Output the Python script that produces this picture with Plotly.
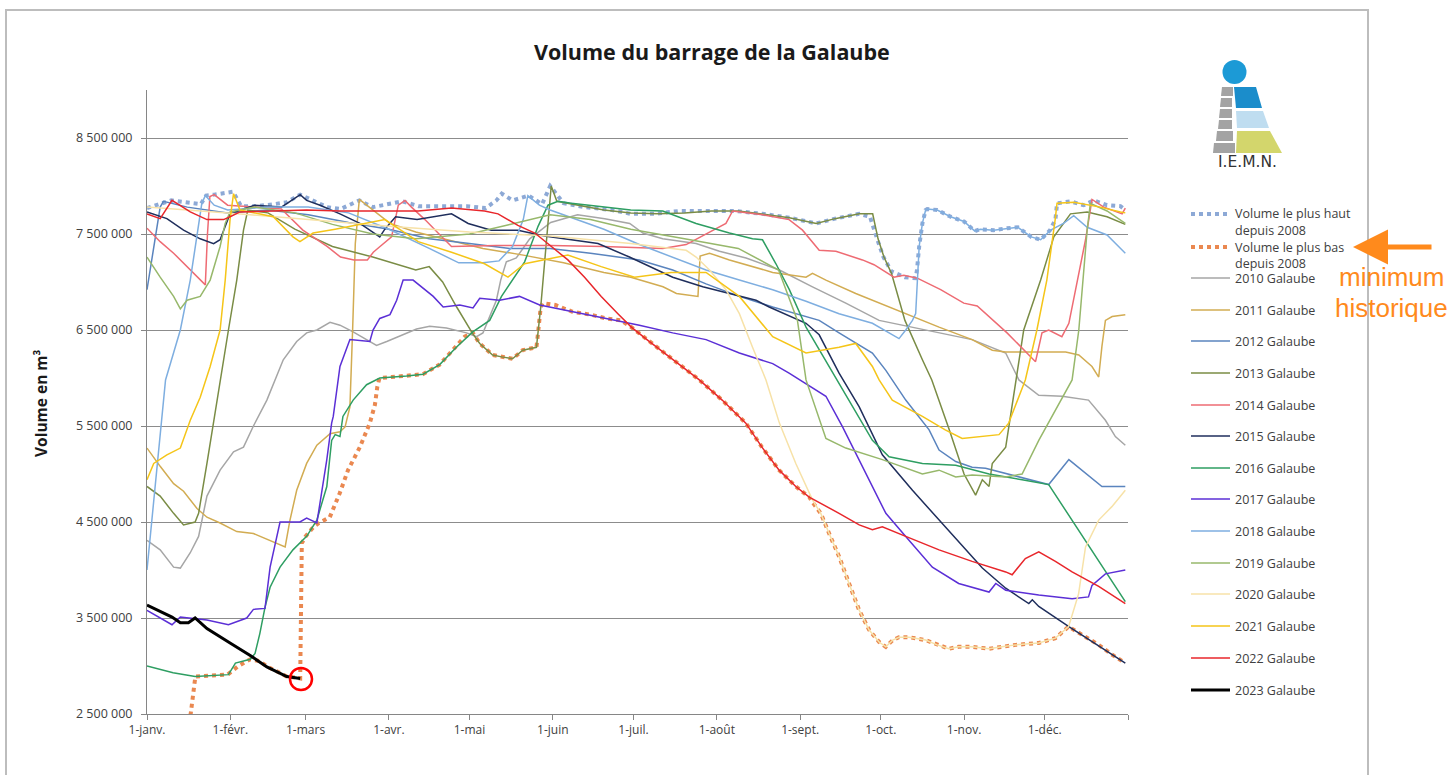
import plotly.graph_objects as go
import pandas as pd

# ---------------- data (volumes in millions of m3, day-of-year from 1 Jan) -------------
months_fr = ["1-janv.", "1-févr.", "1-mars", "1-avr.", "1-mai", "1-juin", "1-juil.",
             "1-août", "1-sept.", "1-oct.", "1-nov.", "1-déc.", ""]
y_ticks = [2.5, 3.5, 4.5, 5.5, 6.5, 7.5, 8.5]
y_ticktext = ["2 500 000", "3 500 000", "4 500 000", "5 500 000", "6 500 000", "7 500 000", "8 500 000"]

days_hi = [0, 6, 9, 20, 22, 25, 32, 35, 41, 47, 52, 57, 62, 67, 72, 79, 84, 90, 95, 101,
           107, 113, 119, 126, 130, 132, 136, 142, 147, 150, 155, 163, 173, 180, 189, 198, 210, 219, 229, 239,
           249, 256, 265, 269, 272, 274, 277, 282, 286, 286.5, 287.3, 288.5, 289.7, 290.3, 294, 299, 304, 308, 310, 315,
           320, 324, 329, 332.5, 336, 338, 338.6, 343.6, 348.5, 352.3, 357.2, 362.2, 364]
vol_hi = [7.77, 7.83, 7.85, 7.81, 7.90, 7.91, 7.94, 7.79, 7.79, 7.81, 7.83, 7.91, 7.85, 7.78, 7.76, 7.85, 7.78, 7.81, 7.84, 7.79,
          7.79, 7.80, 7.79, 7.77, 7.85, 7.92, 7.85, 7.90, 7.81, 8.00, 7.82, 7.78, 7.75, 7.71, 7.71, 7.74, 7.74, 7.74, 7.71, 7.67,
          7.61, 7.66, 7.71, 7.68, 7.42, 7.26, 7.11, 7.05, 7.04, 7.13, 7.37, 7.61, 7.75, 7.76, 7.75, 7.68, 7.63, 7.53, 7.55, 7.54,
          7.56, 7.57, 7.47, 7.44, 7.54, 7.65, 7.82, 7.84, 7.80, 7.85, 7.80, 7.79, 7.75]

days_lo = [0, 10, 15, 16.3, 18, 24, 30, 34, 38.4, 42, 45, 48, 52, 55, 57, 57.6, 59, 62, 64, 68,
           71.7, 74.8, 79.2, 82.9, 84.8, 85.7, 86.5, 91, 96.6, 102.7, 108.9, 113.8, 118.2, 121.2, 123.8, 128.6, 132, 136, 139.8, 144.9,
           145.5, 146.5, 147.2, 152, 158.3, 165, 171, 176.4, 180.2, 186, 193, 200, 205.5, 214, 222.8, 228.8, 235.2, 241.4, 246.4, 247.5,
           250.7, 253.8, 257.5, 261.2, 265, 268.7, 272.4, 274.9, 277.5, 279.8, 283.5, 289.7, 294, 298.4, 302, 306.9, 313.3, 318, 323.2, 331.8,
           338, 342.9, 347, 350, 354.1, 359, 364]
vol_lo = [2.2, 2.3, 2.35, 2.51, 2.89, 2.90, 2.91, 3.0, 3.07, 3.05, 2.99, 2.95, 2.89, 2.88, 2.87, 4.28, 4.35, 4.45, 4.49, 4.55,
          4.80, 5.04, 5.28, 5.53, 5.72, 5.91, 6.0, 6.01, 6.02, 6.04, 6.14, 6.29, 6.43, 6.47, 6.36, 6.24, 6.22, 6.20, 6.29, 6.32,
          6.47, 6.74, 6.78, 6.76, 6.69, 6.66, 6.62, 6.60, 6.53, 6.40, 6.25, 6.10, 5.98, 5.77, 5.53, 5.28, 5.04, 4.87, 4.76, 4.71,
          4.59, 4.38, 4.14, 3.86, 3.58, 3.375, 3.25, 3.20, 3.27, 3.30, 3.30, 3.27, 3.22, 3.18, 3.20, 3.20, 3.18, 3.20, 3.22, 3.24,
          3.29, 3.41, 3.34, 3.28, 3.22, 3.12, 3.03]

days_2010 = [0, 4.9, 9.9, 12.4, 16.1, 19.2, 22.3, 27.2, 32.2, 35.9, 39.6, 44.6, 50.7, 55.7, 59.4, 63.2, 68.1, 71.8, 76.7, 82.9,
             85.4, 89.2, 94.1, 100.3, 105.2, 111.4, 118.9, 122.6, 125, 127.5, 130, 131.6, 133.7, 137.4, 142.4, 150.2, 160.2, 170.3, 179.6, 184.5,
             191.9, 204.3, 213, 222.9, 235.3, 247.6, 260, 272.4, 290, 307, 319.5, 324.4, 331.8, 340.5, 350.3, 356.6, 360.3, 364]
vol_2010 = [4.31, 4.21, 4.03, 4.02, 4.18, 4.35, 4.77, 5.04, 5.23, 5.28, 5.50, 5.77, 6.19, 6.38, 6.47, 6.50, 6.58, 6.55, 6.48, 6.38,
            6.34, 6.38, 6.44, 6.51, 6.54, 6.52, 6.47, 6.43, 6.47, 6.64, 6.81, 7.02, 7.21, 7.25, 7.45, 7.62, 7.70, 7.66, 7.61, 7.51,
            7.45, 7.40, 7.32, 7.25, 7.125, 6.95, 6.78, 6.60, 6.50, 6.40, 6.26, 5.98, 5.82, 5.81, 5.77, 5.56, 5.39, 5.30]

days_2011 = [0, 4.9, 9.9, 13.6, 18.6, 22.3, 27.2, 33.4, 39.6, 45.8, 51.4, 53.2, 55.7, 59.4, 63.2, 68.1, 71.8, 73.7, 75.5, 76.5,
             77.5, 79, 84.1, 90.4, 100, 110, 125, 140, 155, 170, 180, 192, 197, 205, 205.8, 209.3, 216.7, 232.8, 245.2, 247.6,
             252.6, 263.7, 269.9, 282.3, 294.7, 307, 314.5, 319.5, 331.8, 341.8, 346.7, 351.6, 354.1, 355.3, 356.6, 359.1, 364]
vol_2011 = [5.27, 5.08, 4.90, 4.82, 4.64, 4.55, 4.49, 4.40, 4.38, 4.31, 4.24, 4.52, 4.83, 5.11, 5.30, 5.42, 5.44, 5.49, 5.70, 6.50,
            7.40, 7.86, 7.75, 7.61, 7.52, 7.45, 7.35, 7.28, 7.20, 7.10, 7.05, 6.95, 6.88, 6.85, 7.27, 7.30, 7.23, 7.10, 7.05, 7.09,
            7.02, 6.88, 6.81, 6.67, 6.53, 6.40, 6.29, 6.27, 6.27, 6.27, 6.24, 6.12, 6.01, 6.33, 6.60, 6.64, 6.66]

days_2012 = [0, 4.9, 6.1, 15, 30, 45, 60, 75, 90, 105, 120, 135, 150, 165, 183.2, 195.6, 208, 220.4, 232.8, 242.7,
             250.1, 257.5, 269.9, 274.9, 282.3, 291, 294.7, 300.9, 307, 312, 320, 328, 335.5, 343, 355.3, 364]
vol_2012 = [6.92, 7.78, 7.84, 7.78, 7.72, 7.75, 7.70, 7.62, 7.55, 7.45, 7.40, 7.35, 7.35, 7.30, 7.23, 7.125, 6.98, 6.85, 6.74, 6.66,
            6.60, 6.47, 6.26, 6.08, 5.77, 5.46, 5.25, 5.13, 5.07, 5.06, 5.0, 4.94, 4.89, 5.15, 4.87, 4.87]

days_2013 = [0, 4.9, 9.9, 13.6, 17.9, 19.2, 22.3, 26, 30.3, 33.4, 35.9, 37.5, 45, 55, 69, 84, 100, 105, 110, 115,
             121, 123.8, 128.6, 132, 136, 139.8, 144.9, 146.5, 148.5, 150.4, 152.5, 160, 170, 180, 190, 200, 210, 220, 229, 239,
             249, 256, 265, 270, 272, 274.2, 277, 282, 288.5, 292, 298.5, 304, 308.3, 310.8, 313.3, 314.5, 319.5, 323.2, 326.2, 332.5,
             337.4, 343.6, 349.8, 357.2, 364]
vol_2013 = [4.87, 4.77, 4.59, 4.47, 4.50, 4.59, 5.11, 5.77, 6.50, 7.02, 7.54, 7.75, 7.72, 7.55, 7.37, 7.26, 7.125, 7.16, 7.0, 6.75,
            6.47, 6.36, 6.24, 6.22, 6.20, 6.29, 6.32, 6.74, 7.40, 8.00, 7.84, 7.80, 7.75, 7.72, 7.71, 7.72, 7.74, 7.74, 7.71, 7.67,
            7.61, 7.66, 7.71, 7.71, 7.45, 7.26, 7.09, 6.60, 6.19, 5.98, 5.46, 5.00, 4.78, 4.94, 4.87, 5.11, 5.28, 5.98, 6.50, 7.02,
            7.47, 7.71, 7.73, 7.68, 7.60]

days_2014 = [0, 4.9, 9.9, 16.1, 21.7, 22.5, 23.4, 25, 30, 40, 50, 58, 67, 72, 77, 82, 84.2, 86.7, 91, 93.5,
             96, 98.4, 103.4, 108.3, 113.3, 130, 150, 170, 191.9, 200.6, 212.9, 215.4, 217.9, 229, 238.9, 243.9, 250.1, 256.3, 266.2, 270.5,
             277.9, 281.6, 286.6, 295.3, 303.9, 308.9, 320, 330.6, 333, 335.5, 340.4, 343, 349.2, 351.6, 356, 362.8, 364]
vol_2014 = [7.56, 7.42, 7.30, 7.125, 6.97, 7.50, 7.89, 7.91, 7.80, 7.78, 7.76, 7.54, 7.37, 7.26, 7.23, 7.23, 7.31, 7.37, 7.47, 7.80,
            7.85, 7.78, 7.65, 7.51, 7.37, 7.38, 7.38, 7.37, 7.35, 7.39, 7.57, 7.61, 7.74, 7.70, 7.65, 7.54, 7.33, 7.32, 7.23, 7.18,
            7.05, 7.07, 7.04, 6.92, 6.78, 6.75, 6.47, 6.17, 6.47, 6.50, 6.43, 6.57, 7.44, 7.86, 7.78, 7.71, 7.77]

days_2015 = [0, 7.4, 13.6, 19.8, 24.8, 27.2, 30.9, 40, 50, 57, 59.4, 64.4, 71.8, 79.2, 86.6, 88.5, 92.5, 100.5, 113.3, 119.5,
             128.1, 138, 147.9, 157.9, 167.8, 179.5, 195.6, 206.8, 216.7, 226.6, 231.5, 241.4, 245.2, 250.1, 257.5, 265, 273.6, 284.8, 294.7, 305.9,
             310.8, 319.5, 328.1, 329.4, 331.8, 343, 364]
vol_2015 = [7.73, 7.66, 7.54, 7.45, 7.40, 7.44, 7.71, 7.80, 7.78, 7.91, 7.85, 7.80, 7.71, 7.61, 7.47, 7.55, 7.68, 7.65, 7.71, 7.61,
            7.54, 7.54, 7.48, 7.44, 7.40, 7.26, 7.05, 6.95, 6.88, 6.81, 6.74, 6.62, 6.57, 6.45, 6.05, 5.70, 5.20, 4.83, 4.52, 4.17,
            4.02, 3.81, 3.65, 3.69, 3.62, 3.41, 3.03]

days_2016 = [0, 9.7, 17.9, 30.3, 32.9, 38.4, 40.2, 42, 43.9, 45.8, 49.5, 54.3, 59.4, 63.2, 66.9, 68.7, 70, 71.8, 72.9, 76.7,
             81.7, 86.6, 96.6, 102.7, 108.9, 115.1, 121.2, 127.5, 131.9, 140.5, 145.5, 149.2, 152.9, 157.9, 180, 191.9, 204.3, 216.7, 225.3, 229,
             234, 239, 245.2, 262.5, 269.9, 276.1, 288.5, 300.9, 313.3, 325.6, 335.5, 364]
vol_2016 = [3.0, 2.93, 2.89, 2.91, 3.03, 3.07, 3.13, 3.34, 3.61, 3.82, 4.03, 4.21, 4.35, 4.52, 4.87, 5.35, 5.41, 5.39, 5.60, 5.77,
            5.93, 6.0, 6.02, 6.04, 6.14, 6.32, 6.48, 6.60, 6.85, 7.21, 7.58, 7.80, 7.84, 7.82, 7.75, 7.74, 7.61, 7.51, 7.45, 7.44,
            7.19, 6.92, 6.53, 5.70, 5.35, 5.18, 5.11, 5.09, 5.0, 4.94, 4.89, 3.67]

days_2017 = [0, 9.3, 12.4, 22.3, 30.3, 37.1, 39.6, 43.9, 45.8, 49.5, 56.9, 59.4, 63.2, 66.9, 68.7, 69.3, 71.8, 75.5, 82.9, 84.1,
             86.6, 90.4, 92.9, 95.3, 99, 106.5, 110.2, 116.4, 121.3, 123.8, 131.2, 138.6, 146.1, 158.5, 170.9, 183.2, 195.6, 208, 220.4, 232.8,
             238.9, 245.2, 252.6, 258.8, 265, 274.9, 282.3, 292.2, 302, 313.3, 315.8, 319.5, 331.8, 344.2, 350.3, 351.6, 356.6, 364]
vol_2017 = [3.58, 3.43, 3.51, 3.48, 3.43, 3.50, 3.59, 3.60, 4.03, 4.50, 4.50, 4.54, 4.49, 5.15, 5.53, 5.60, 6.12, 6.40, 6.38, 6.50,
            6.62, 6.66, 6.81, 7.02, 7.02, 6.85, 6.74, 6.76, 6.73, 6.83, 6.81, 6.85, 6.76, 6.69, 6.62, 6.55, 6.47, 6.40, 6.26, 6.15,
            6.05, 5.94, 5.81, 5.49, 5.15, 4.59, 4.35, 4.03, 3.86, 3.77, 3.86, 3.79, 3.74, 3.70, 3.72, 3.84, 3.96, 4.0]

days_2018 = [0, 6.9, 12.4, 16.1, 20.4, 21.7, 25, 30, 45, 60, 75, 90, 105, 116, 125, 131, 136, 140, 141.7, 146,
             150, 160, 170, 183.2, 195.6, 208, 220.4, 232.8, 245.2, 257.5, 269.9, 279.8, 282.3, 284.8, 286, 287.3, 288.5, 289.7, 290.3, 294,
             299, 304, 308, 310, 315, 320, 324, 329, 332.5, 336.2, 341, 344.8, 349.8, 357.2, 364]
vol_2018 = [4.0, 5.98, 6.5, 7.02, 7.82, 7.90, 7.80, 7.75, 7.78, 7.78, 7.72, 7.55, 7.35, 7.20, 7.20, 7.22, 7.37, 7.65, 7.90, 7.80,
            7.75, 7.65, 7.55, 7.39, 7.26, 7.125, 7.02, 6.92, 6.80, 6.67, 6.57, 6.41, 6.50, 6.60, 6.67, 7.37, 7.61, 7.75, 7.76, 7.75,
            7.68, 7.63, 7.53, 7.55, 7.54, 7.56, 7.57, 7.47, 7.44, 7.54, 7.61, 7.69, 7.57, 7.49, 7.30]

days_2019 = [0, 4.9, 9.9, 12.4, 14.9, 19.8, 23.5, 27.2, 29.1, 30.9, 40, 55, 69, 84, 100, 120, 135, 150, 165, 180,
             200, 220, 235, 242, 245.2, 252.6, 260, 273.6, 288.5, 294.7, 300.9, 307, 319.5, 325.6, 331.8, 344.2, 346.7, 349.8, 351, 357.2,
             364]
vol_2019 = [7.26, 7.05, 6.85, 6.72, 6.81, 6.85, 7.02, 7.37, 7.61, 7.73, 7.78, 7.72, 7.60, 7.50, 7.45, 7.50, 7.60, 7.70, 7.65, 7.55,
            7.45, 7.35, 7.125, 6.60, 5.98, 5.37, 5.27, 5.15, 5.0, 5.04, 4.97, 4.99, 4.97, 5.0, 5.35, 5.98, 6.5, 7.54, 7.82, 7.74,
            7.61]

days_2020 = [0, 30, 60, 90, 120, 150, 180, 200.6, 204.3, 209.3, 215.4, 220.4, 225.3, 230.3, 235.3, 241.4, 247.6, 250.7, 253.8, 257.5,
             261.2, 265, 268.7, 272.4, 274.9, 277.5, 279.8, 283.5, 289.7, 294, 298.4, 302, 306.9, 313.3, 318, 323.2, 331.8, 338, 342.9, 346.6,
             349.2, 354.1, 359, 364]
vol_2020 = [7.78, 7.72, 7.65, 7.58, 7.52, 7.48, 7.40, 7.33, 7.26, 7.125, 6.92, 6.67, 6.32, 5.98, 5.53, 5.11, 4.73, 4.59, 4.38, 4.14,
            3.86, 3.58, 3.375, 3.25, 3.20, 3.27, 3.30, 3.30, 3.27, 3.22, 3.18, 3.20, 3.20, 3.18, 3.20, 3.22, 3.24, 3.29, 3.41, 3.75,
            4.24, 4.52, 4.66, 4.83]

days_2021 = [0, 2.5, 7.4, 12.4, 16.1, 19.8, 23.5, 27.2, 29.1, 30.9, 32.2, 34.6, 47, 54.3, 56.9, 61.8, 70, 80, 88.5, 100.9,
             113.3, 125.6, 134.3, 140.5, 150.4, 156.6, 169, 181.4, 195, 208, 220.4, 232.8, 245.2, 257.5, 263.7, 269.9, 272.4, 277.3, 288.5, 297,
             303.3, 310.8, 317, 320.6, 326.8, 331.1, 334.8, 337.9, 338.6, 344.8, 354.7, 362.2, 364]
vol_2021 = [4.94, 5.11, 5.20, 5.27, 5.56, 5.80, 6.12, 6.50, 7.02, 7.65, 7.92, 7.75, 7.68, 7.47, 7.42, 7.51, 7.55, 7.60, 7.65, 7.42,
            7.31, 7.19, 7.05, 7.19, 7.25, 7.28, 7.16, 7.05, 7.10, 7.10, 6.85, 6.43, 6.26, 6.32, 6.36, 6.12, 5.98, 5.77, 5.60, 5.46,
            5.37, 5.39, 5.41, 5.53, 5.98, 6.50, 7.02, 7.65, 7.82, 7.83, 7.78, 7.73, 7.72]

days_2022 = [0, 4.9, 9.3, 16.1, 22.3, 28.5, 30.9, 34.6, 47, 59.4, 71.8, 84.1, 100.9, 113.3, 125.6, 130.6, 138, 144.3, 150.4, 156.6,
             162.8, 169, 175.2, 180.2, 186, 193, 200, 205.5, 214, 222.8, 228.8, 235.2, 241.4, 246.4, 257.5, 265, 269.9, 273.6, 282.3, 294.7,
             307, 319.5, 321.9, 326.8, 331.8, 338, 344.2, 354.1, 364]
vol_2022 = [7.71, 7.66, 7.85, 7.73, 7.65, 7.65, 7.68, 7.73, 7.74, 7.75, 7.74, 7.74, 7.74, 7.77, 7.74, 7.71, 7.59, 7.51, 7.37, 7.23,
            7.05, 6.85, 6.67, 6.53, 6.40, 6.25, 6.10, 5.98, 5.77, 5.53, 5.28, 5.04, 4.87, 4.76, 4.59, 4.47, 4.42, 4.45, 4.35, 4.21,
            4.09, 3.98, 3.95, 4.12, 4.19, 4.09, 3.98, 3.83, 3.65]

days_2023 = [0, 5, 9.3, 12.4, 15.4, 17.9, 22.3, 30.9, 38.4, 44.6, 52, 57]
vol_2023 = [3.635, 3.57, 3.51, 3.45, 3.45, 3.50, 3.39, 3.24, 3.11, 2.99, 2.89, 2.87]

# ---------------- series definitions -------------
series = [
    ("Volume le plus haut depuis 2008", days_hi, vol_hi, "#8DA9D6", 4, "dot"),
    ("Volume le plus bas depuis 2008", days_lo, vol_lo, "#EA8850", 4, "dot"),
    ("2010 Galaube", days_2010, vol_2010, "#A6A6A6", 1.5, "solid"),
    ("2011 Galaube", days_2011, vol_2011, "#D2AC52", 1.5, "solid"),
    ("2012 Galaube", days_2012, vol_2012, "#5A84BE", 1.5, "solid"),
    ("2013 Galaube", days_2013, vol_2013, "#7A8C45", 1.5, "solid"),
    ("2014 Galaube", days_2014, vol_2014, "#EE6B73", 1.5, "solid"),
    ("2015 Galaube", days_2015, vol_2015, "#1F2E5C", 1.5, "solid"),
    ("2016 Galaube", days_2016, vol_2016, "#2E9E62", 1.5, "solid"),
    ("2017 Galaube", days_2017, vol_2017, "#5B2FD6", 1.5, "solid"),
    ("2018 Galaube", days_2018, vol_2018, "#7EAEE0", 1.5, "solid"),
    ("2019 Galaube", days_2019, vol_2019, "#97B86B", 1.5, "solid"),
    ("2020 Galaube", days_2020, vol_2020, "#F7E2A8", 1.5, "solid"),
    ("2021 Galaube", days_2021, vol_2021, "#F5C518", 1.5, "solid"),
    ("2022 Galaube", days_2022, vol_2022, "#E8262B", 1.5, "solid"),
    ("2023 Galaube", days_2023, vol_2023, "#000000", 3, "solid"),
]

base = pd.Timestamp("2023-01-01")


def to_dates(days):
    return [base + pd.Timedelta(days=d) for d in days]


fig = go.Figure()
for name, d, v, col, w, dash in series:
    fig.add_trace(go.Scatter(x=to_dates(d), y=[val * 1e6 for val in v], mode="lines", name=name,
                             line=dict(color=col, width=w, dash=dash), showlegend=False))

# ---------------- geometry helpers (pixel -> paper) -------------
W, H = 1455, 775
L, R, T, B = 147, 1128, 90, 714


def px(x):
    return (x - L) / (R - L)


def py(y):
    return (B - y) / (B - T)


shapes = []
annotations = []

# outer frame
shapes.append(dict(type="rect", xref="paper", yref="paper", x0=px(6), x1=px(1368), y0=py(790), y1=py(10),
                   line=dict(color="#BDBDBD", width=2), fillcolor="rgba(0,0,0,0)", layer="below"))

# title
annotations.append(dict(xref="paper", yref="paper", x=px(712), y=py(51), text="<b>Volume du barrage de la Galaube</b>",
                        showarrow=False, font=dict(family="Open Sans", size=21.5, color="#1a1a1a"),
                        xanchor="center", yanchor="middle"))
# y-axis title
annotations.append(dict(xref="paper", yref="paper", x=px(41), y=py(403), text="<b>Volume en m³</b>", textangle=-90,
                        showarrow=False, font=dict(family="Open Sans", size=15.5, color="#1a1a1a"),
                        xanchor="center", yanchor="middle"))

# manual legend
leg_font = dict(family="Open Sans", size=12.5, color="#404040")
leg_rows = [214, 247, 278, 310, 341, 373, 405, 436, 468, 499, 531, 563, 594, 626, 658, 690]
for (name, d, v, col, w, dash), yy in zip(series, leg_rows):
    shapes.append(dict(type="line", xref="paper", yref="paper", x0=px(1191), x1=px(1230), y0=py(yy), y1=py(yy),
                       line=dict(color=col, width=w, dash=dash)))
    if name.startswith("Volume"):
        first, second = name.split(" depuis ")
        annotations.append(dict(xref="paper", yref="paper", x=px(1233), y=py(yy), text=first, showarrow=False,
                                font=leg_font, xanchor="left", yanchor="middle"))
        annotations.append(dict(xref="paper", yref="paper", x=px(1233), y=py(yy + 16.5), text="depuis 2008",
                                showarrow=False, font=leg_font, xanchor="left", yanchor="middle"))
    else:
        annotations.append(dict(xref="paper", yref="paper", x=px(1233), y=py(yy), text=name, showarrow=False,
                                font=leg_font, xanchor="left", yanchor="middle"))

# red circle marking the 2023 minimum
shapes.append(dict(type="circle", xref="paper", yref="paper", x0=px(290), x1=px(312), y0=py(690), y1=py(668),
                   line=dict(color="#FF0000", width=2.5)))

# orange arrow + note
annotations.append(dict(xref="paper", yref="paper", x=px(1353), y=py(247), ax=80, ay=0, axref="pixel", ayref="pixel",
                        text="", showarrow=True, arrowhead=2, arrowsize=1.4, arrowwidth=5, arrowcolor="#FF8A1C"))
annotations.append(dict(xref="paper", yref="paper", x=px(1391), y=py(277), text="minimum", showarrow=False,
                        font=dict(family="Liberation Sans", size=26, color="#FF8A1C"), xanchor="center", yanchor="middle"))
annotations.append(dict(xref="paper", yref="paper", x=px(1391), y=py(308), text="historique", showarrow=False,
                        font=dict(family="Liberation Sans", size=26, color="#FF8A1C"), xanchor="center", yanchor="middle"))


# logo I.E.M.N.
def poly(points, fill):
    path = "M " + " L ".join(f"{px(x):.5f},{py(y):.5f}" for x, y in points) + " Z"
    return dict(type="path", xref="paper", yref="paper", path=path, fillcolor=fill, line=dict(width=0))


shapes.append(dict(type="circle", xref="paper", yref="paper", x0=px(1222.5), x1=px(1246.5), y0=py(84), y1=py(60),
                   fillcolor="#1C9AD6", line=dict(width=0)))
shapes.append(poly([(1234, 87), (1256, 87), (1262, 108), (1236, 108)], "#1B8DCB"))
shapes.append(poly([(1236, 111), (1263, 111), (1269, 128), (1237, 128)], "#BFDDF0"))
shapes.append(poly([(1237, 131), (1270, 131), (1282, 153), (1236, 153)], "#D3D66C"))
bricks = [(1221, 1233, 87, 96), (1220, 1232, 98, 107), (1219, 1232, 109, 118), (1218, 1232, 120, 129),
          (1216, 1233, 131, 141), (1213, 1235, 143, 153)]
for x0, x1, y0, y1 in bricks:
    shapes.append(poly([(x0 + 1, y0), (x1, y0), (x1, y1), (x0, y1)], "#A3A3A3"))
annotations.append(dict(xref="paper", yref="paper", x=px(1247), y=py(162), text="I.E.M.N.", showarrow=False,
                        font=dict(family="DejaVu Sans", size=15.5, color="#333333"), xanchor="center", yanchor="middle"))

month_dates = [base + pd.DateOffset(months=i) for i in range(13)]

fig.update_layout(
    width=W, height=H,
    margin=dict(l=L, r=W - R, t=T, b=H - B),
    paper_bgcolor="white", plot_bgcolor="white",
    showlegend=False,
    shapes=shapes, annotations=annotations,
    xaxis=dict(type="date", range=[base, base + pd.Timedelta(days=365)], tickvals=month_dates, ticktext=months_fr,
               ticks="outside", ticklen=5, tickcolor="#868686", showline=True, linecolor="#868686", linewidth=1,
               showgrid=False, zeroline=False, tickfont=dict(family="Open Sans", size=12, color="#404040")),
    yaxis=dict(range=[2.5e6, 9.0e6], tickvals=[t * 1e6 for t in y_ticks], ticktext=y_ticktext,
               ticks="outside", ticklen=5, tickcolor="#868686", showline=True, linecolor="#868686", linewidth=1,
               showgrid=True, gridcolor="#8C8C8C", gridwidth=1, zeroline=False, ticklabelstandoff=6,
               tickfont=dict(family="Open Sans", size=12.5, color="#404040")),
)

fig.write_html("out.html", config={"displayModeBar": False},
               post_script="document.body.style.margin='0px';")
